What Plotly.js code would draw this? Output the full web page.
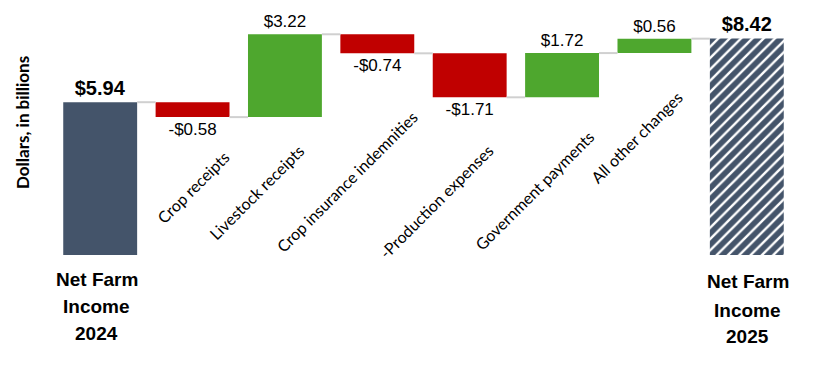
<!DOCTYPE html>
<html>
<head>
<meta charset="utf-8">
<script src="https://cdn.plot.ly/plotly-3.0.1.min.js"></script>
<style>html,body{margin:0;padding:0;background:#fff;}#chart{width:820px;height:370px;}</style>
</head>
<body>
<div id="chart"></div>
<script>
// ---- data ----
const categories = ["Net Farm Income 2024", "Crop receipts", "Livestock receipts", "Crop insurance indemnities",
  "-Production expenses", "Government payments", "All other changes", "Net Farm Income 2025"];
const measures = ["total", "relative", "relative", "relative", "relative", "relative", "relative", "total"];
const values = [5.94, -0.58, 3.22, -0.74, -1.71, 1.72, 0.56, 8.42];
const valueLabels = ["$5.94", "-$0.58", "$3.22", "-$0.74", "-$1.71", "$1.72", "$0.56", "$8.42"];
const totalLabelLines = [["Net Farm", "Income", "2024"], ["Net Farm", "Income", "2025"]];
const yTitle = "Dollars, in billions";

// ---- styles ----
const W = 820, H = 370;
const M = {l: 54, r: 27, t: 24, b: 115};
const YMAX = 8.98;
const COL_TOTAL = "#44546A", COL_UP = "#4EA72E", COL_DOWN = "#C00000", COL_HATCH = "#8294AD";
const FONT = "Liberation Sans, Arial, sans-serif";
const LABEL_FONT = "Lato, Liberation Sans, sans-serif";

// compute bases from running sums
const xs = categories.map((_, i) => i);
const bases = [], heights = [], colors = [], shapes = [], texts = [], sizes = [];
let run = 0;
const levels = [];
values.forEach((v, i) => {
  if (measures[i] === "total") {
    bases.push(0); heights.push(v); run = v;
    colors.push(COL_TOTAL);
  } else {
    bases.push(run); heights.push(v); run += v;
    colors.push(v >= 0 ? COL_UP : COL_DOWN);
  }
  levels.push(run);
  shapes.push(i === values.length - 1 ? "/" : "");
  texts.push(measures[i] === "total" ? "<b>" + valueLabels[i] + "</b>" : valueLabels[i]);
  sizes.push(measures[i] === "total" ? 20 : 17);
});

const bars = {
  type: "bar", x: xs, y: heights, base: bases, width: 0.8,
  marker: {
    color: colors,
    line: {width: 0},
    pattern: {shape: shapes, fgcolor: values.map(() => COL_HATCH), fgopacity: 1, size: 8, solidity: 0.3, fillmode: "overlay"}
  },
  text: texts, textposition: "outside", cliponaxis: false, constraintext: "none",
  textfont: {family: FONT, color: "#000", size: sizes},
  outsidetextfont: {family: FONT, color: "#000", size: sizes},
  hoverinfo: "skip", showlegend: false
};

// connectors
const cx = [], cy = [];
for (let i = 0; i < values.length - 1; i++) {
  cx.push(i + 0.4, i + 0.6, null);
  cy.push(levels[i], levels[i], null);
}
const connectors = {
  type: "scatter", mode: "lines", x: cx, y: cy,
  line: {color: "#D0D0D0", width: 2}, hoverinfo: "skip", showlegend: false, cliponaxis: false
};

// pixel -> paper helpers for label placement
const pw = W - M.l - M.r, ph = H - M.t - M.b;
const px = v => (v - M.l) / pw;
const py = v => (H - M.b - v) / ph;

const annotations = [];
// rotated category labels (centre positions in px)
const catPos = [null, [192.5, 187], [256, 192.5], [346.5, 181], [436, 201.5], [534, 190], [636, 137.3], null];
categories.forEach((c, i) => {
  if (!catPos[i]) return;
  annotations.push({
    text: c, xref: "paper", yref: "paper", x: px(catPos[i][0]), y: py(catPos[i][1]),
    xanchor: "center", yanchor: "middle", textangle: -45, showarrow: false,
    font: {family: LABEL_FONT, size: 16, color: "#000"}
  });
});
// total labels under bars
const totalPos = [{x: 96.5, ys: [279.5, 306.8, 333.5]}, {x: 747.5, ys: [281.8, 310, 336]}];
totalLabelLines.forEach((lines, k) => {
  lines.forEach((t, j) => {
    annotations.push({
      text: "<b>" + t + "</b>", xref: "paper", yref: "paper",
      x: px(totalPos[k].x), y: py(totalPos[k].ys[j]),
      xanchor: "center", yanchor: "middle", showarrow: false,
      font: {family: FONT, size: 19, color: "#000"}
    });
  });
});
// y title
annotations.push({
  text: "<b>" + yTitle + "</b>", xref: "paper", yref: "paper",
  x: px(22.5), y: py(122.5), xanchor: "center", yanchor: "middle",
  textangle: -90, showarrow: false, font: {family: LABEL_FONT, size: 17, color: "#000"}
});

const layout = {
  width: W, height: H, margin: M,
  paper_bgcolor: "#fff", plot_bgcolor: "#fff",
  showlegend: false, bargap: 0.2,
  xaxis: {type: "linear", range: [-0.5, 7.5], visible: false, fixedrange: true},
  yaxis: {range: [0, YMAX], visible: false, fixedrange: true},
  annotations: annotations
};

Plotly.newPlot("chart", [bars, connectors], layout, {displayModeBar: false, staticPlot: true});
</script>
</body>
</html>
